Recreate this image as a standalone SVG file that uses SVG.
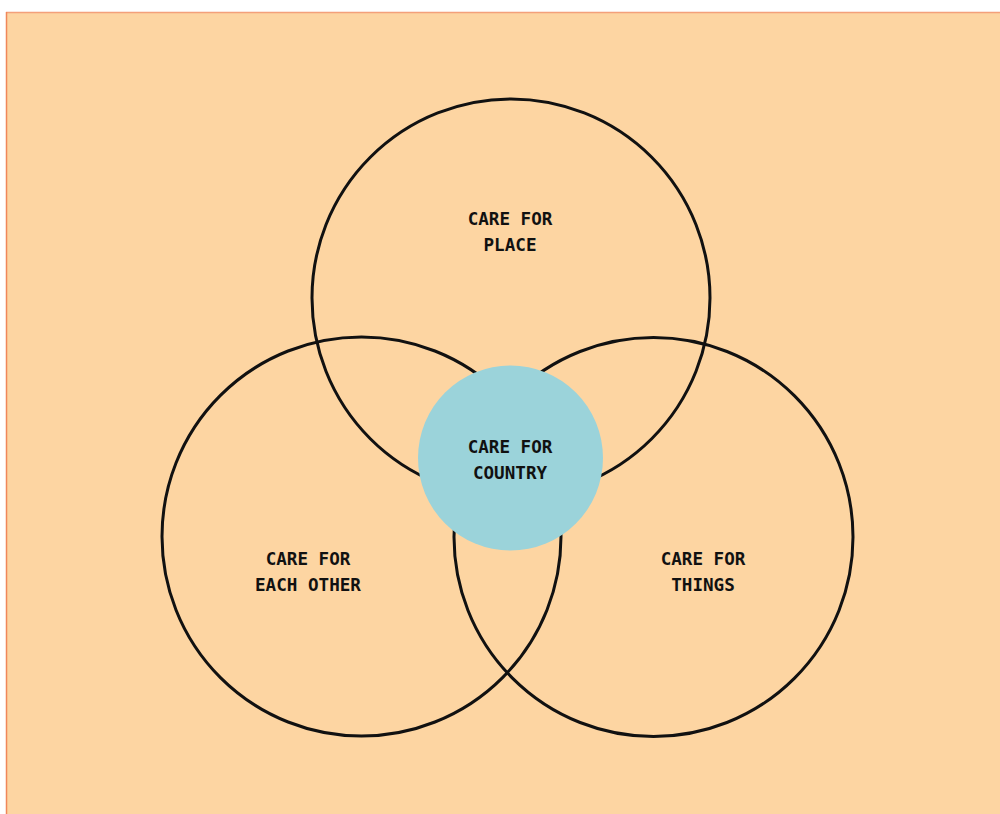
<svg xmlns="http://www.w3.org/2000/svg" width="1000" height="814" viewBox="0 0 1000 814">
<style>
.ring{fill:none;stroke:#111;stroke-width:3}
.lbl{font-family:"DejaVu Sans Mono",monospace;font-weight:bold;font-size:17.6px;fill:#111;text-anchor:middle}
</style>
<rect x="0" y="0" width="1000" height="814" fill="#ffffff"/>
<rect x="6" y="12" width="1000" height="810" fill="#FDD5A2"/>
<line x1="6" y1="12.5" x2="1000" y2="12.5" stroke="#F4A07A" stroke-width="1.5"/>
<line x1="6.5" y1="12" x2="6.5" y2="814" stroke="#F0875A" stroke-width="1.5"/>
<g id="place">
<circle class="ring" cx="511" cy="298" r="199"/>
<text class="lbl" x="510" y="225">CARE FOR</text>
<text class="lbl" x="510" y="251">PLACE</text>
</g>
<g id="each-other">
<circle class="ring" cx="361.5" cy="536.5" r="199.5"/>
<text class="lbl" x="308" y="565">CARE FOR</text>
<text class="lbl" x="308" y="591">EACH OTHER</text>
</g>
<g id="things">
<circle class="ring" cx="653.5" cy="537" r="199.5"/>
<text class="lbl" x="703" y="565">CARE FOR</text>
<text class="lbl" x="703" y="591">THINGS</text>
</g>
<g id="country">
<circle cx="510.5" cy="458" r="92.5" fill="#9BD3DA"/>
<text class="lbl" x="510" y="453">CARE FOR</text>
<text class="lbl" x="510" y="479">COUNTRY</text>
</g>
<g id="connectors"/>
</svg>
